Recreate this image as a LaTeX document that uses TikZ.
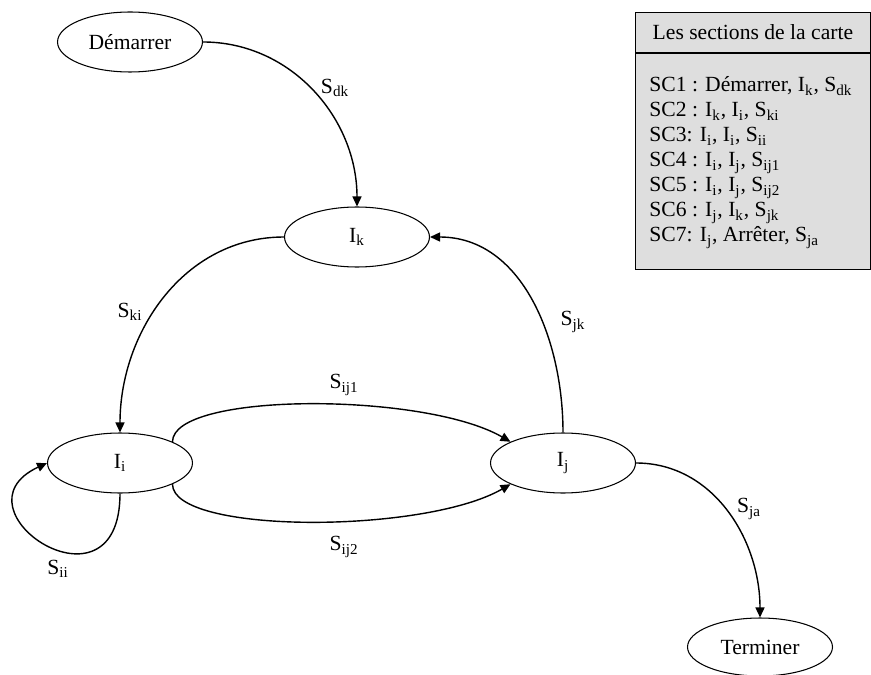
\documentclass[tikz,border=0pt]{standalone}
\usepackage{fontspec}
\setmainfont{Liberation Serif}
\usetikzlibrary{shapes.geometric,arrows.meta}

\definecolor{legfill}{RGB}{222,222,222}
\newcommand{\sub}[1]{\textsubscript{#1}}

\begin{document}
\begin{tikzpicture}[x=0.02cm,y=-0.02cm,
  every node/.style={font=\fontsize{12.3}{14.8}\selectfont},
  etat/.style={draw,ellipse,line width=0.6pt,minimum width=2.9cm,minimum height=1.2cm,inner sep=0pt},
  trans/.style={line width=0.8pt,-{Triangle[length=0.2cm,width=0.18cm]}},
  lbl/.style={inner sep=0pt},
  legbox/.style={draw,fill=legfill,line width=0.5pt,minimum width=4.7cm,anchor=north west},
  legline/.style={anchor=base west,inner sep=0pt}]
  \useasboundingbox (0,0) rectangle (871,675);

  \node[etat] (dem) at (130,42) {Démarrer};
  \node[etat] (ik) at (357,237) {I\sub{k}};
  \node[etat] (ii) at (120,463) {I\sub{i}};
  \node[etat] (ij) at (563,463) {I\sub{j}};
  \node[etat,minimum height=1.16cm] (term) at (760,647) {Terminer};

  \path (dem) edge[trans,out=0,in=90] (ik);
  \path (ik) edge[trans,out=180,in=90] (ii);
  \path (ij) edge[trans,out=90,in=0] (ik);
  \path (ii.22) edge[trans,out=90,in=150,out distance=1cm,in distance=2cm] (ij.158);
  \path (ii.-22) edge[trans,out=-90,in=-150,out distance=1cm,in distance=2cm] (ij.-158);
  \path (ii.south) edge[trans,out=-90,in=205,out distance=2.6cm,in distance=2.2cm] (ii.west);
  \path (ij) edge[trans,out=0,in=90] (term);

  \node[lbl] (l-dk) at (335,88) {S\sub{dk}};
  \node[lbl] (l-ki) at (130,312) {S\sub{ki}};
  \node[lbl] (l-jk) at (573,322) {S\sub{jk}};
  \node[lbl] (l-ij1) at (344,385) {S\sub{ij1}};
  \node[lbl] (l-ij2) at (344,547) {S\sub{ij2}};
  \node[lbl] (l-ii) at (58,569) {S\sub{ii}};
  \node[lbl] (l-ja) at (749,509) {S\sub{ja}};

  % legende
  \node[legbox,minimum height=0.8cm] (leghead) at (635,12) {Les sections de la carte};
  \node[legbox,minimum height=4.32cm] (legbody) at (leghead.south west) {};
  \foreach \txt [count=\n] in {{SC1 : Démarrer, I\sub{k}, S\sub{dk}},
      {SC2 : I\sub{k}, I\sub{i}, S\sub{ki}},
      {SC3: I\sub{i}, I\sub{i}, S\sub{ii}},
      {SC4 : I\sub{i}, I\sub{j}, S\sub{ij1}},
      {SC5 : I\sub{i}, I\sub{j}, S\sub{ij2}},
      {SC6 : I\sub{j}, I\sub{k}, S\sub{jk}},
      {SC7: I\sub{j}, Arrêter, S\sub{ja}}}
    \node[legline] (sc-\n) at (649,67+25*\n) {\txt};
\end{tikzpicture}
\end{document}
